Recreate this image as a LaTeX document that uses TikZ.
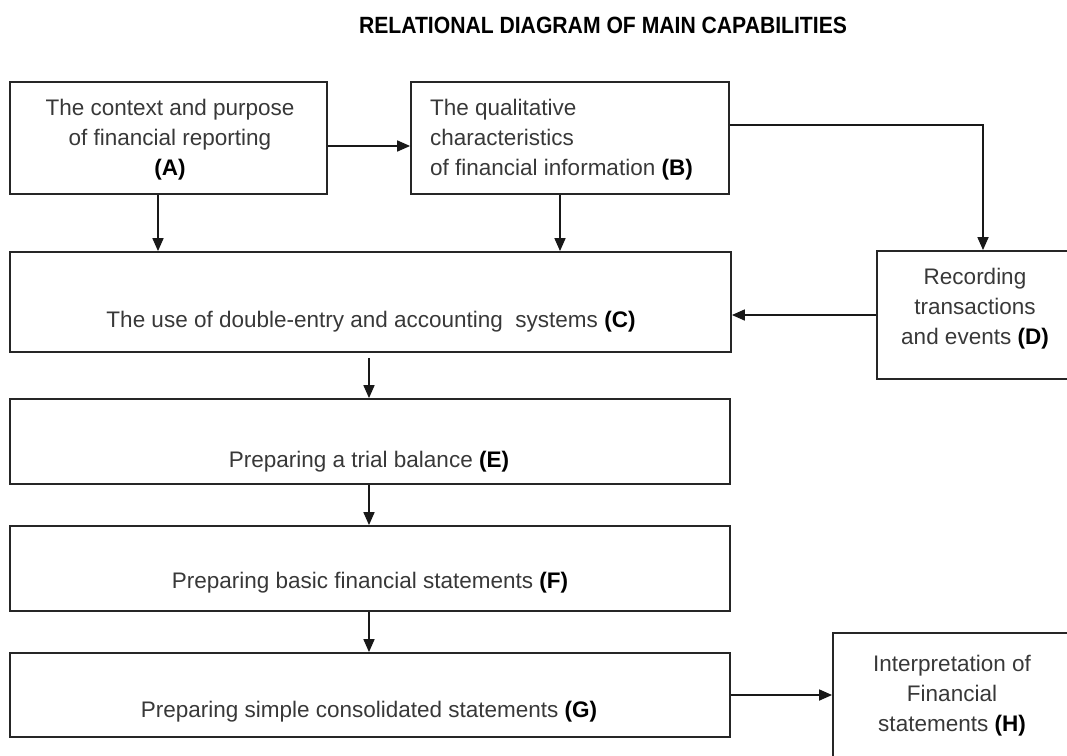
\documentclass[tikz,border=0pt]{standalone}
\usepackage{fontspec}
\setmainfont{Liberation Sans}
\usetikzlibrary{arrows.meta}
\newcommand{\lett}[1]{\textbf{\color{black}(#1)}}
\begin{document}
\begin{tikzpicture}[x=1pt,y=-1pt,
  box/.style={draw=black!85,line width=1.8pt,rectangle,inner sep=0pt,fill=none},
  txt/.style={text=black!78,font=\fontsize{22.5}{30}\selectfont,inner sep=0pt},
  arr/.style={draw=black!90,line width=1.7pt,-{Triangle[length=13pt,width=11pt]}}
]
\path[use as bounding box] (0,0) rectangle (1067,755);
\clip (0,0) rectangle (1067,755);

% heading
\node[font=\bfseries\fontsize{23.5}{28}\selectfont,text=black,inner sep=0pt] (title) at (603,25)
  {\scalebox{0.9}[1]{RELATIONAL DIAGRAM OF MAIN CAPABILITIES}};

% boxes
\node[box,minimum width=317pt,minimum height=112pt] (A) at (168.5,138) {};
\node[box,minimum width=318pt,minimum height=112pt] (B) at (570,138) {};
\node[box,minimum width=721pt,minimum height=100pt] (C) at (370.5,302) {};
\node[box,minimum width=203pt,minimum height=128pt] (D) at (978.5,315) {};
\node[box,minimum width=720pt,minimum height=85pt] (E) at (370,441.5) {};
\node[box,minimum width=720pt,minimum height=85pt] (F) at (370,568.5) {};
\node[box,minimum width=720pt,minimum height=84pt] (G) at (370,695) {};
\node[box,minimum width=247pt,minimum height=137pt] (H) at (956.5,701.5) {};

% box texts
\node[txt,align=center] (At) at (170,140)
  {The context and purpose\\of financial reporting\\\lett{A}};
\node[txt,align=left,anchor=west] (Bt) at (430,140)
  {The qualitative\\characteristics\\of financial information \lett{B}};
\node[txt] (Ct) at (371,322) {The use of double-entry and accounting\ \ systems \lett{C}};
\node[txt,align=center] (Dt) at (975,309)
  {Recording\\transactions\\and events \lett{D}};
\node[txt] (Et) at (369,462) {Preparing a trial balance \lett{E}};
\node[txt] (Ft) at (370,583) {Preparing basic financial statements \lett{F}};
\node[txt] (Gt) at (369,712) {Preparing simple consolidated statements \lett{G}};
\node[txt,align=center] (Ht) at (952,696)
  {Interpretation of\\Financial\\statements \lett{H}};

% connectors
\draw[arr] ([yshift=-8pt]A.east) -- ([yshift=-8pt]A.east -| B.west);
\draw[arr] ([xshift=-10.5pt]A.south) -- ([xshift=-10.5pt]A.south |- C.north);
\draw[arr] ([xshift=-10pt]B.south) -- ([xshift=-10pt]B.south |- C.north);
\draw[arr] ([yshift=13pt]B.east) -| ([xshift=4.5pt]D.north);
\draw[arr] (D.west) -- (D.west -| C.east);
\draw[arr,shorten <=5pt] ([xshift=-1.5pt]C.south) -- ([xshift=-1pt]E.north);
\draw[arr] ([xshift=-1pt]E.south) -- ([xshift=-1pt]F.north);
\draw[arr] ([xshift=-1pt]F.south) -- ([xshift=-1pt]G.north);
\draw[arr] (G.east) -- (G.east -| H.west);
\end{tikzpicture}
\end{document}
